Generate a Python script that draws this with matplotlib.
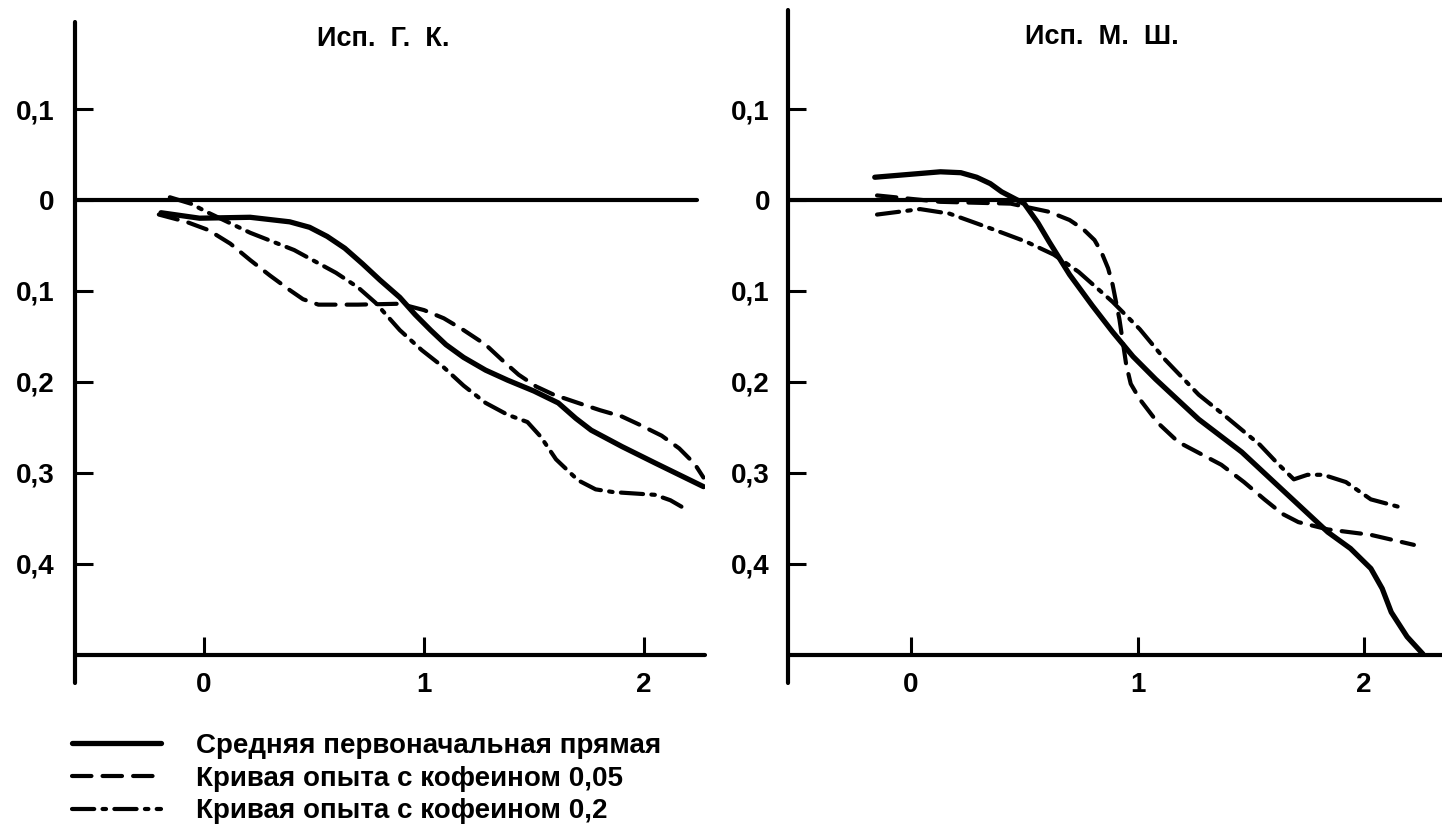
import matplotlib
matplotlib.use("Agg")
import matplotlib.pyplot as plt
from matplotlib.ticker import FixedLocator, FuncFormatter

plt.rcParams['font.family'] = ['Liberation Sans', 'DejaVu Sans']
plt.rcParams['font.weight'] = 'bold'
plt.rcParams['lines.scale_dashes'] = False

# Subject "Исп. Г. К."
gk_base_x = [-0.195, -0.02, 0.21, 0.39, 0.48, 0.56, 0.64, 0.72, 0.80, 0.89, 0.96, 1.03, 1.10, 1.18,
             1.28, 1.38, 1.50, 1.61, 1.69, 1.76, 1.90, 2.05, 2.27]
gk_base_y = [-0.014, -0.020, -0.019, -0.024, -0.030, -0.040, -0.053, -0.070, -0.088, -0.107, -0.126,
             -0.143, -0.159, -0.173, -0.187, -0.198, -0.210, -0.223, -0.240, -0.253, -0.271, -0.289, -0.315]
gk_c005_x = [-0.205, -0.08, 0.02, 0.12, 0.21, 0.30, 0.39, 0.45, 0.52, 0.70, 0.89, 1.00, 1.09, 1.18,
             1.28, 1.36, 1.43, 1.51, 1.59, 1.70, 1.80, 1.90, 1.98, 2.08, 2.16, 2.23, 2.27]
gk_c005_y = [-0.016, -0.024, -0.033, -0.048, -0.066, -0.083, -0.099, -0.109, -0.115, -0.115, -0.114,
             -0.121, -0.130, -0.143, -0.159, -0.177, -0.192, -0.205, -0.214, -0.223, -0.231, -0.238,
             -0.247, -0.259, -0.273, -0.290, -0.305]
gk_c02_x = [-0.155, -0.06, 0.02, 0.21, 0.41, 0.60, 0.70, 0.78, 0.89, 0.99, 1.09, 1.18, 1.28, 1.38,
            1.47, 1.53, 1.60, 1.70, 1.78, 1.86, 2.05, 2.12, 2.17]
gk_c02_y = [0.003, -0.004, -0.014, -0.036, -0.055, -0.080, -0.096, -0.113, -0.143, -0.165, -0.184,
            -0.204, -0.223, -0.236, -0.244, -0.260, -0.285, -0.308, -0.318, -0.321, -0.324, -0.330, -0.337]

# Subject "Исп. М. Ш."
ms_base_x = [-0.16, 0.13, 0.22, 0.29, 0.35, 0.40, 0.50, 0.56, 0.61, 0.70, 0.80, 0.89, 0.98, 1.08,
             1.27, 1.46, 1.65, 1.84, 1.94, 2.03, 2.08, 2.12, 2.19, 2.26]
ms_base_y = [0.025, 0.031, 0.030, 0.025, 0.018, 0.009, -0.004, -0.025, -0.046, -0.082, -0.116, -0.145,
             -0.172, -0.197, -0.241, -0.277, -0.321, -0.365, -0.383, -0.405, -0.427, -0.453, -0.480, -0.499]
ms_c005_x = [-0.15, 0.13, 0.44, 0.61, 0.70, 0.76, 0.81, 0.84, 0.87, 0.89, 0.92, 0.95, 0.97, 1.01,
             1.09, 1.18, 1.37, 1.47, 1.56, 1.64, 1.71, 1.84, 2.03, 2.22]
ms_c005_y = [0.005, -0.002, -0.004, -0.013, -0.022, -0.032, -0.044, -0.057, -0.075, -0.093, -0.131,
             -0.181, -0.202, -0.219, -0.245, -0.266, -0.291, -0.310, -0.329, -0.345, -0.354, -0.362,
             -0.368, -0.379]
ms_c02_x = [-0.15, 0.04, 0.17, 0.36, 0.51, 0.63, 0.74, 0.89, 1.01, 1.12, 1.27, 1.38, 1.54, 1.62,
            1.69, 1.75, 1.82, 1.92, 2.03, 2.15]
ms_c02_y = [-0.016, -0.010, -0.015, -0.032, -0.046, -0.060, -0.079, -0.112, -0.142, -0.175, -0.214,
            -0.236, -0.269, -0.290, -0.307, -0.302, -0.302, -0.310, -0.329, -0.337]

titles = ["Исп.  Г.  К.", "Исп.  М.  Ш."]
legend_labels = ["Средняя первоначальная прямая",
                 "Кривая опыта с кофеином 0,05",
                 "Кривая опыта с кофеином 0,2"]
y_ticks = [0.1, 0.0, -0.1, -0.2, -0.3, -0.4]
x_ticks = [0, 1, 2]

W, H = 1442, 826
fig = plt.figure(figsize=(W / 100, H / 100), dpi=100)
fig.patch.set_facecolor('white')


def px_box(x0, x1, y0, y1):
    return [x0 / W, 1 - y1 / H, (x1 - x0) / W, (y1 - y0) / H]


ylim = (-0.5308, 0.2088)
panels = [
    dict(box=px_box(75, 705, 10, 683), xlim=(-0.586, 2.277), zero_end=2.24,
         spine_top=0.1956, data=[(gk_base_x, gk_base_y), (gk_c005_x, gk_c005_y), (gk_c02_x, gk_c02_y)],
         title_x=0.489, title_y=0.957, ypad=14.5),
    dict(box=px_box(788, 1442, 10, 683), xlim=(-0.543, 2.344), zero_end=2.344,
         spine_top=0.2088, data=[(ms_base_x, ms_base_y), (ms_c005_x, ms_c005_y), (ms_c02_x, ms_c02_y)],
         title_x=0.48, title_y=0.96, ypad=13.0),
]

styles = [
    dict(linestyle='-', lw=3.8),
    dict(linestyle=(0, (14, 8)), lw=3.0),
    dict(linestyle=(0, (16, 6, 2.5, 6)), lw=3.0),
]

handles = []
for i, p in enumerate(panels):
    ax = fig.add_axes(p['box'])
    ax.set_xlim(*p['xlim'])
    ax.set_ylim(*ylim)
    ax.patch.set_alpha(0)
    for s in ['top', 'right']:
        ax.spines[s].set_visible(False)
    ax.spines['left'].set_linewidth(3.0)
    ax.spines['left'].set_bounds(ylim[0], p['spine_top'])
    ax.spines['bottom'].set_linewidth(3.0)
    ax.spines['bottom'].set_position(('data', -0.5))
    ax.spines['left'].set_capstyle('round')
    ax.spines['bottom'].set_capstyle('round')

    ax.plot([p['xlim'][0], p['zero_end']], [0, 0], color='black', lw=3.0,
            solid_capstyle='round', zorder=2)

    for (xs, ys), st in zip(p['data'], styles):
        ln, = ax.plot(xs, ys, color='black', solid_capstyle='round',
                      dash_capstyle='round', solid_joinstyle='round',
                      dash_joinstyle='round', zorder=3, **st)
        if i == 0:
            handles.append(ln)

    ax.yaxis.set_major_locator(FixedLocator(y_ticks))
    ax.yaxis.set_major_formatter(FuncFormatter(
        lambda v, _: f"{abs(v):.1f}".replace('.', ',') if abs(v) > 1e-9 else "0"))
    ax.xaxis.set_major_locator(FixedLocator(x_ticks))
    ax.xaxis.set_major_formatter(FuncFormatter(lambda v, _: f"{int(round(v))}"))
    ax.tick_params(axis='y', direction='in', length=13, width=2.2, pad=p['ypad'], labelsize=20)
    ax.tick_params(axis='x', direction='in', length=13, width=2.2, pad=12, labelsize=20)
    for lab in ax.get_xticklabels() + ax.get_yticklabels():
        lab.set_fontweight('bold')

    ax.text(p['title_x'], p['title_y'], titles[i], transform=ax.transAxes, ha='center', va='center',
            fontsize=19.5, fontweight='bold')

fig.legend(handles, legend_labels, loc='upper left', bbox_to_anchor=(72 / W, 1 - 733 / H),
           frameon=False, handlelength=3.2, handletextpad=1.25,
           labelspacing=0.24, borderpad=0, borderaxespad=0,
           prop=dict(family=['Liberation Sans', 'DejaVu Sans'], weight='bold', size=20))

fig.savefig('out.png', dpi=100, facecolor='white')
